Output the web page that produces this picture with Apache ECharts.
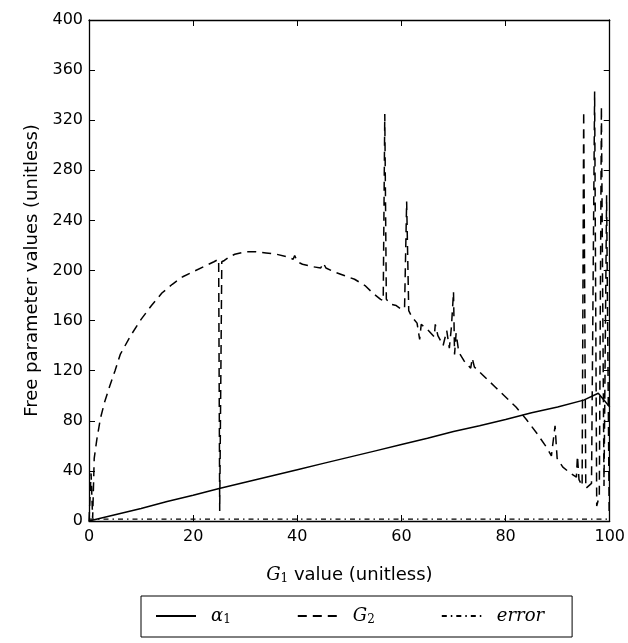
<!DOCTYPE html>
<html>
<head>
<meta charset="utf-8">
<script src="https://cdn.jsdelivr.net/npm/echarts@6/dist/echarts.min.js"></script>
<style>
html, body { margin: 0; padding: 0; background: #fff; }
#chart { width: 628px; height: 643px; }
</style>
</head>
<body>
<div id="chart"></div>
<script>
// alpha_1 (solid)
var alphaX = [0, 5, 10, 15, 20, 25, 30, 35, 40, 45, 50, 55, 60, 65, 70, 75, 80, 85, 90, 95, 97.8, 100];
var alphaY = [0, 5, 10, 15.5, 20.5, 26, 31, 36, 41, 46, 51, 56, 61, 66, 71.5, 76, 81, 86.5, 91, 96.5, 102, 91];

// G_2 (dashed)
var g2X = [0, 0.4, 0.7, 1.0, 1.5, 2.2, 3, 4, 5, 6, 8, 10, 12, 14, 16, 18, 20, 22, 24, 24.9, 25.1, 25.5,
  26, 27, 28, 30, 32, 34, 36, 38, 39.2, 39.5, 40, 41, 43, 44.5, 45, 45.5, 47, 49, 51, 53, 54.5, 56,
  56.5, 56.8, 57.1, 58, 59, 60, 60.6, 61.0, 61.4, 62, 63, 63.3, 63.5, 63.8, 65, 66.3, 66.5, 67, 68,
  68.7, 69.2, 69.6, 70.0, 70.2, 70.5, 71, 72, 73.3, 73.6, 74, 76, 78, 80, 82, 84, 86, 88, 88.8, 89.5,
  89.9, 91, 92.5, 93.6, 93.8, 94.1, 94.7, 95.0, 95.4, 96.5, 97.1, 97.5, 98.0, 98.4, 98.9, 99.4, 99.9];
var g2Y = [0, 38, 2, 50, 65, 82, 95, 108, 120, 133, 148, 161, 172, 182, 189, 195, 199, 203, 207, 209, 8, 207,
  208, 211, 213, 215, 215, 214, 213, 211, 209, 212, 207, 205, 203, 202, 206, 202, 199, 196, 193, 188, 182, 177,
  176, 325, 177, 173, 172, 169, 170, 255, 168, 163, 158, 158, 145, 157, 153, 147, 157, 148, 140,
  152, 138, 155, 183, 133, 150, 135, 128, 122, 130, 123, 115, 107, 99, 91, 81, 70, 58, 52, 76,
  50, 43, 38, 35, 52, 33, 28, 327, 26, 30, 343, 12, 20, 331, 28, 260, 4];

// error (dash-dot)
var errX = [0, 10, 20, 30, 40, 50, 60, 70, 80, 90, 100];
var errY = [1.5, 1.5, 1.5, 1.5, 1.5, 1.5, 1.5, 1.5, 1.5, 1.5, 1.5];

function pairs(xs, ys) {
  return xs.map(function (x, i) { return [x, ys[i]]; });
}

var tickFont = { color: '#000', fontSize: 16, fontFamily: 'DejaVu Sans' };
// onZero off, otherwise top/right axes jump onto the zero lines
var axisLine = { show: true, onZero: false, lineStyle: { color: '#000', width: 1.3 } };
var tick = { show: true, inside: true, length: 6, lineStyle: { color: '#000', width: 1 } };

var chart = echarts.init(document.getElementById('chart'));
chart.setOption({
  animation: false,
  backgroundColor: '#fff',
  grid: { left: 89, right: 18, top: 20, bottom: 122, containLabel: false },
  xAxis: [{
    type: 'value', min: 0, max: 100, interval: 20, position: 'bottom',
    axisLine: axisLine, axisTick: tick, splitLine: { show: false },
    axisLabel: Object.assign({ margin: 8 }, tickFont),
    name: '{g|G}{s|1}{t| value (unitless)}',
    nameLocation: 'middle', nameGap: 44,
    nameTextStyle: {
      rich: {
        g: { fontFamily: 'DejaVu Serif', fontStyle: 'italic', fontSize: 18, color: '#000' },
        s: { fontFamily: 'DejaVu Serif', fontSize: 12, color: '#000', padding: [8, 0, 0, 0] },
        t: { fontFamily: 'DejaVu Sans', fontSize: 18, color: '#000' }
      }
    }
  }, {
    type: 'value', min: 0, max: 100, interval: 20, position: 'top',
    axisLine: axisLine, axisTick: tick, axisLabel: { show: false }, splitLine: { show: false }
  }],
  yAxis: [{
    type: 'value', min: 0, max: 400, interval: 40, position: 'left',
    axisLine: axisLine, axisTick: tick, splitLine: { show: false },
    axisLabel: Object.assign({ margin: 6 }, tickFont),
    name: 'Free parameter values (unitless)',
    nameLocation: 'middle', nameGap: 48,
    nameTextStyle: { color: '#000', fontSize: 18, fontFamily: 'DejaVu Sans' }
  }, {
    type: 'value', min: 0, max: 400, interval: 40, position: 'right',
    axisLine: axisLine, axisTick: tick, axisLabel: { show: false }, splitLine: { show: false }
  }],
  legend: {
    left: 141, top: 596,
    orient: 'horizontal',
    itemWidth: 40, itemHeight: 14, itemGap: 66,
    padding: [11, 28, 11, 14],
    borderColor: '#000', borderWidth: 1,
    itemStyle: { opacity: 0 },
    data: ['alpha', 'G2', 'error'],
    formatter: function (name) {
      if (name === 'alpha') return '{a|α}{s|1}';
      if (name === 'G2') return '{g|G}{s|2}';
      return '{e|error}';
    },
    textStyle: {
      padding: [0, 0, 0, 10],
      rich: {
        a: { fontFamily: 'DejaVu Serif', fontStyle: 'italic', fontSize: 18, color: '#000' },
        g: { fontFamily: 'DejaVu Serif', fontStyle: 'italic', fontSize: 18, color: '#000' },
        s: { fontFamily: 'DejaVu Serif', fontSize: 12, color: '#000', padding: [8, 0, 0, 0] },
        e: { fontFamily: 'DejaVu Serif', fontStyle: 'italic', fontSize: 18, color: '#000' }
      }
    }
  },
  series: [{
    name: 'alpha', type: 'line', symbol: 'none',
    data: pairs(alphaX, alphaY),
    lineStyle: { color: '#000', width: 1.5, type: 'solid' },
    itemStyle: { color: '#000' }
  }, {
    name: 'G2', type: 'line', symbol: 'none',
    data: pairs(g2X, g2Y),
    lineStyle: { color: '#000', width: 1.5, type: [9, 6] },
    itemStyle: { color: '#000' }
  }, {
    name: 'error', type: 'line', symbol: 'none',
    data: pairs(errX, errY),
    lineStyle: { color: '#000', width: 1.3, type: [5, 4, 1.5, 4] },
    itemStyle: { color: '#000' }
  }]
});
</script>
</body>
</html>
